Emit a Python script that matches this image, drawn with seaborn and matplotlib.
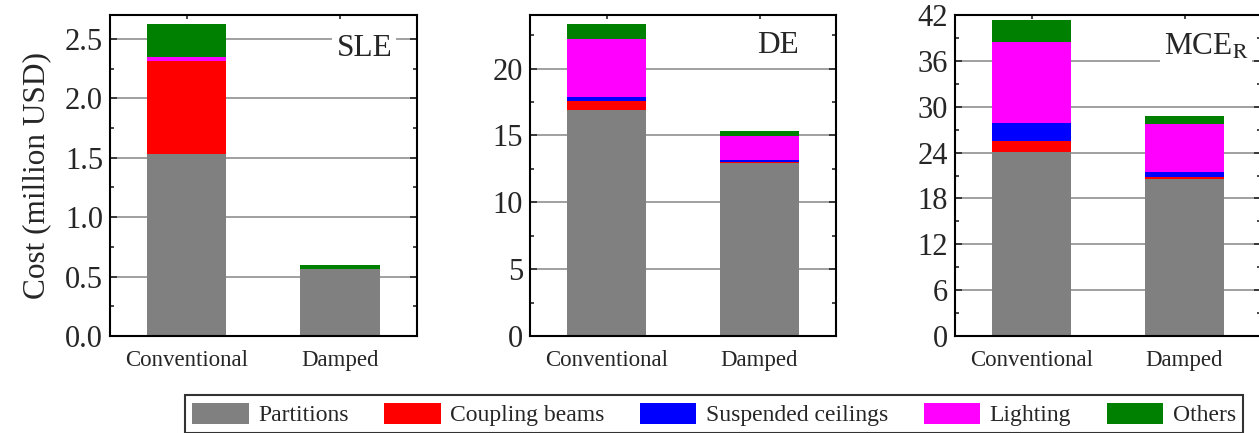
import matplotlib
matplotlib.use("Agg")
import matplotlib.pyplot as plt
from matplotlib.patches import Patch
from matplotlib.ticker import MultipleLocator, FormatStrFormatter
import seaborn as sns
import numpy as np

# data (million USD)
categories = ["Conventional", "Damped"]
components = ["Partitions", "Coupling beams", "Suspended ceilings", "Lighting", "Others"]
colors = ["#808080", "#ff0000", "#0000ff", "#ff00ff", "#008000"]

partitions_sle = [1.528, 0.565]
coupling_sle = [0.787, 0.0]
ceilings_sle = [0.0, 0.0]
lighting_sle = [0.030, 0.0]
others_sle = [0.281, 0.028]

partitions_de = [16.88, 12.94]
coupling_de = [0.68, 0.10]
ceilings_de = [0.32, 0.10]
lighting_de = [4.31, 1.82]
others_de = [1.13, 0.33]

partitions_mce = [24.06, 20.48]
coupling_mce = [1.49, 0.35]
ceilings_mce = [2.31, 0.65]
lighting_mce = [10.61, 6.21]
others_mce = [2.88, 1.09]

levels = ["SLE", "DE", "MCE$_\\mathrm{R}$"]
level_data = [
    [partitions_sle, coupling_sle, ceilings_sle, lighting_sle, others_sle],
    [partitions_de, coupling_de, ceilings_de, lighting_de, others_de],
    [partitions_mce, coupling_mce, ceilings_mce, lighting_mce, others_mce],
]

sns.set_theme(style="white")
plt.rcParams["font.family"] = ["Liberation Serif", "DejaVu Serif"]
plt.rcParams["mathtext.fontset"] = "stix"

W, H = 1259, 433
fig = plt.figure(figsize=(W / 100, H / 100), dpi=100)

# axes boxes in pixels: left, right, top, bottom
boxes = [(110, 416.5, 15, 336), (530, 836, 15, 336), (955, 1261, 15, 336)]
ylims = [2.7, 24, 42]
major = [0.5, 5, 6]
label_pos = [(0.83, 0.895), (0.81, 0.905), (0.82, 0.90)]

for i, (lvl, comps) in enumerate(zip(levels, level_data)):
    l, r, t, b = boxes[i]
    ax = fig.add_axes([l / W, (H - b) / H, (r - l) / W, (b - t) / H])
    cum = np.cumsum(np.array(comps), axis=0)
    # draw totals top-down so lower layers overlay upper ones
    for k in range(len(components) - 1, -1, -1):
        sns.barplot(x=categories, y=cum[k], color=colors[k], width=0.52,
                    saturation=1, ax=ax, zorder=2, linewidth=0)
    ax.set_ylim(0, ylims[i])
    ax.set_xlim(-0.5, 1.5)
    ax.yaxis.set_major_locator(MultipleLocator(major[i]))
    ax.yaxis.set_minor_locator(MultipleLocator(major[i] / 2))
    if i == 0:
        ax.yaxis.set_major_formatter(FormatStrFormatter("%.1f"))
    ax.grid(axis="y", which="major", color="#999999", lw=1.3, zorder=0)
    ax.set_axisbelow(True)
    for s in ax.spines.values():
        s.set_color("black")
        s.set_linewidth(1.5)
    ax.tick_params(axis="y", which="both", direction="in", left=True, right=True,
                   labelsize=22, width=1.2, pad=5)
    ax.tick_params(axis="y", which="major", length=5)
    ax.tick_params(axis="y", which="minor", length=3)
    ax.tick_params(axis="x", direction="in", bottom=True, top=True, length=3,
                   labelsize=16.5, pad=10, width=1.2)
    ax.set_xlabel("")
    if i == 0:
        ax.set_ylabel("Cost (million USD)", fontsize=22.5, labelpad=10)
    else:
        ax.set_ylabel("")
    ax.text(label_pos[i][0], label_pos[i][1], lvl, transform=ax.transAxes,
            fontsize=22.5, ha="center", va="center", zorder=5,
            bbox=dict(facecolor="white", edgecolor="none", pad=3))

handles = [Patch(facecolor=c, edgecolor="none", label=n) for c, n in zip(colors, components)]
leg = fig.legend(handles=handles, loc="center", bbox_to_anchor=(0.567, 0.043), ncol=5,
                 fontsize=17, frameon=True, fancybox=False, handlelength=2.4,
                 handleheight=1.0, columnspacing=1.5, handletextpad=0.4,
                 borderpad=0.3, borderaxespad=0)
leg.get_frame().set_edgecolor("black")
leg.get_frame().set_linewidth(1.5)

fig.savefig("out.png", dpi=100)
